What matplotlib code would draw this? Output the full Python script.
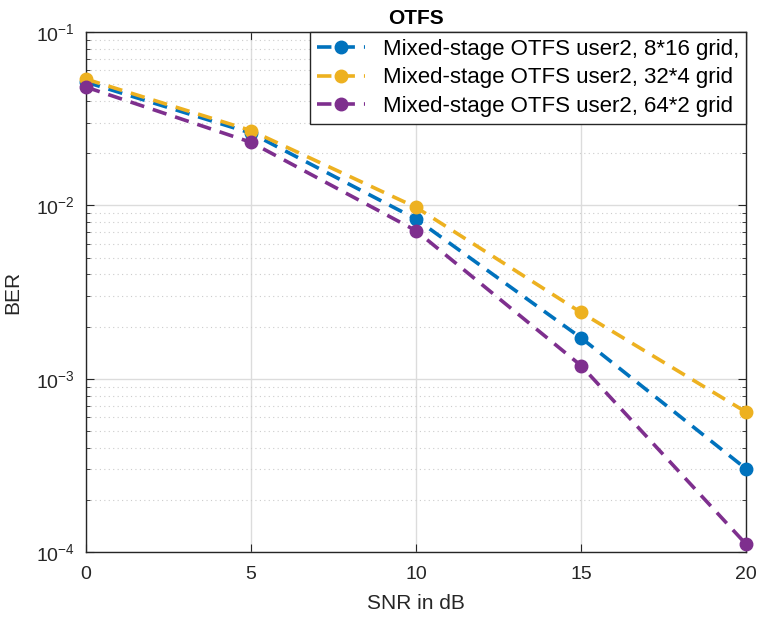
import matplotlib
matplotlib.use("Agg")
import matplotlib.pyplot as plt
from matplotlib.ticker import LogLocator, NullFormatter

plt.rcParams['font.family'] = ['Liberation Sans', 'DejaVu Sans']

# SNR points and BER curves
snr = [0, 5, 10, 15, 20]
ber_8x16 = [0.0514, 0.0261, 0.00834, 0.00172, 3.02e-4]
ber_32x4 = [0.0535, 0.0270, 0.00974, 0.00241, 6.42e-4]
ber_64x2 = [0.0481, 0.0231, 0.00714, 0.00119, 1.11e-4]
labels = ["Mixed-stage OTFS user2, 8*16 grid,",
          "Mixed-stage OTFS user2, 32*4 grid",
          "Mixed-stage OTFS user2, 64*2 grid"]
colors = ["#0072BD", "#EDB120", "#7E2F8E"]

fig = plt.figure(figsize=(7.59, 6.21), dpi=100)
ax = fig.add_axes([0.1133, 0.111, 0.8697, 0.8375])

for y, lab, c in zip([ber_8x16, ber_32x4, ber_64x2], labels, colors):
    ax.plot(snr, y, linestyle=(0, (4, 2.5)), color=c, linewidth=2.6,
            marker='o', markersize=9, label=lab, clip_on=False, zorder=3)

ax.set_yscale('log')
ax.set_xlim(0, 20)
ax.set_ylim(1e-4, 1e-1)
ax.set_xticks([0, 5, 10, 15, 20])
ax.yaxis.set_major_locator(LogLocator(base=10, numticks=10))
ax.yaxis.set_minor_locator(LogLocator(base=10, subs=range(2, 10), numticks=20))
ax.yaxis.set_minor_formatter(NullFormatter())

ax.grid(True, which='major', color='#dcdcdc', linewidth=1.0, linestyle='-')
ax.grid(True, which='minor', axis='y', color='#cccccc', linewidth=0.8, linestyle=(0, (1, 3)))
ax.set_axisbelow(True)

ax.tick_params(which='both', direction='in', top=True, right=True, colors='#262626',
               labelsize=14, labelcolor='#262626')
ax.tick_params(which='major', length=6)
ax.tick_params(which='minor', length=3)
ax.tick_params(axis='x', pad=10)
ax.tick_params(axis='y', pad=8)
for s in ax.spines.values():
    s.set_color('#262626')
    s.set_linewidth(1.0)

ax.set_xlabel('SNR in dB', fontsize=15, color='#262626', labelpad=8)
ax.set_ylabel('BER', fontsize=15, color='#262626', labelpad=10)
ax.set_title('OTFS', fontsize=15, fontweight='bold', pad=6)

leg = ax.legend(loc='upper right', fontsize=16, fancybox=False, framealpha=1,
                edgecolor='#262626', borderaxespad=0, handlelength=2.2,
                borderpad=0.3, labelspacing=0.35, handletextpad=0.8)
leg.get_frame().set_linewidth(1.0)

fig.savefig('out.png', dpi=100)
